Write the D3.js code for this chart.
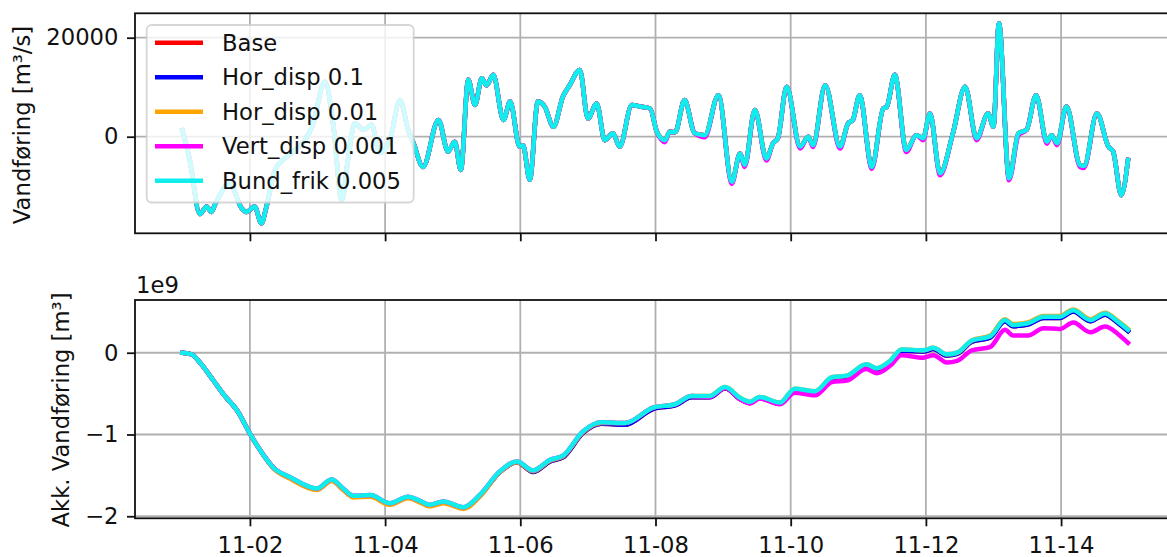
<!DOCTYPE html>
<html>
<head>
<meta charset="utf-8">
<script src="https://d3js.org/d3.v7.min.js"></script>
<style>
  body { margin: 0; background: #fff; }
  svg { display: block; font-family: "DejaVu Sans", sans-serif; }
</style>
</head>
<body>
<div id="chart"></div>
<script>
// series names + colours (matplotlib named colours)
const seriesNames = ["Base", "Hor_disp 0.1", "Hor_disp 0.01", "Vert_disp 0.001", "Bund_frik 0.005"];
const seriesColors = ["#ff0000", "#0000ff", "#ffa500", "#ff00ff", "#10eded"];

// x ticks: day of month in november
const tickDays = [2, 4, 6, 8, 10, 12, 14];

// top panel: flow [m3/s], time in days after 11-01 00:00
const flowT = [0, 0.11, 0.26, 0.36, 0.43, 0.48, 0.70, 0.88, 0.95, 1.07,
  1.17, 1.24, 1.37, 1.49, 1.67, 1.81, 1.92, 2.11, 2.23, 2.36,
  2.45, 2.55, 2.68, 2.80, 2.92, 3.07, 3.22, 3.34, 3.42, 3.56,
  3.79, 3.93, 4.03, 4.12, 4.23, 4.33, 4.43, 4.50, 4.60, 4.75,
  4.85, 4.99, 5.04, 5.14, 5.26, 5.36, 5.49, 5.63, 5.73, 5.88,
  6.00, 6.13, 6.25, 6.37, 6.47, 6.65, 6.77, 6.92, 7.02, 7.14,
  7.21, 7.29, 7.43, 7.58, 7.73, 7.93, 8.13, 8.25, 8.32, 8.47,
  8.64, 8.74, 8.81, 8.94, 9.14, 9.26, 9.33, 9.51, 9.73, 9.85,
  9.92, 10.02, 10.20, 10.37, 10.42, 10.54, 10.71, 10.86, 10.96, 11.06,
  11.21, 11.40, 11.58, 11.75, 11.92, 12.00, 12.08, 12.23, 12.37, 12.49,
  12.63, 12.79, 12.86, 12.94, 13.08, 13.28, 13.34, 13.53, 13.70, 13.77,
  13.89, 13.99];

const flowBase = [1300, -4700, -15600, -14100, -15200, -13800, -9500, -14500, -15200, -14100,
  -17500, -14400, -6700, -4700, -2700, -700, 2000, 11100, 2700, -12800,
  -4700, 2700, 1400, 2400, -3300, -700, 7400, 1400, -1300, -6100,
  3400, -3000, -1000, -6700, 11500, 6400, 11800, 10400, 12500, 3400,
  7100, -2000, -1700, -8700, 7100, 6100, 2000, 8100, 10400, 13500,
  3700, 6700, -700, 700, -2000, 6400, 6100, 5700, 1000, -700,
  1000, 900, 7400, 700, 300, 8400, -9100, -3400, -5700, 5400,
  -4400, -1300, -300, 10100, -2000, 0, -1700, 10400, -2000, 2700,
  3400, 8400, -6100, 5700, 6000, 12500, -2700, 300, -300, 4700,
  -7400, 700, 10100, -300, 4700, 2000, 22900, -8400, 700, 1400,
  8400, -1000, 300, -1300, 6100, -5700, -5900, 4700, -2000, -3000,
  -11800, -4700];

// vert_disp sits a touch lower in the troughs, the rest overlap
const flowVert = [1300, -4700, -15600, -14100, -15200, -13800, -9500, -14500, -15200, -14100,
  -17500, -14400, -6700, -4700, -2700, -700, 2000, 11100, 2700, -12800,
  -4700, 2700, 1400, 2400, -3300, -700, 7400, 1400, -1300, -6100,
  3400, -3000, -1000, -6700, 11500, 6400, 11800, 10400, 12500, 3400,
  7100, -2000, -1700, -8700, 7100, 6100, 2000, 8100, 10400, 13500,
  3700, 6700, -700, 700, -2000, 6400, 6100, 5700, 1000, -1100,
  1000, 900, 7400, 700, -100, 8400, -9500, -3400, -6100, 5400,
  -4800, -1300, -300, 10100, -2400, 0, -2100, 10400, -2400, 2700,
  3400, 8400, -6500, 5700, 6000, 12500, -3100, 300, -700, 4700,
  -7800, 700, 10100, -700, 4700, 2000, 22900, -8800, 300, 1400,
  8400, -1400, 300, -1700, 6100, -6100, -6300, 4700, -2000, -3000,
  -11800, -4700];

// bottom panel: accumulated flow [1e9 m3]
const cumT = [0, 0.14, 0.26, 0.46, 0.61, 0.83, 1.0, 1.2, 1.34, 1.59,
  1.99, 2.21, 2.38, 2.53, 2.78, 3.07, 3.34, 3.51, 3.66, 3.86,
  4.16, 4.4, 4.7, 4.95, 5.19, 5.44, 5.63, 5.93, 6.2, 6.55,
  6.97, 7.29, 7.53, 7.8, 8.03, 8.25, 8.4, 8.54, 8.84, 9.06,
  9.36, 9.61, 9.83, 10.12, 10.27, 10.47, 10.64, 10.96, 11.11, 11.31,
  11.46, 11.68, 11.95, 12.17, 12.29, 12.51, 12.74, 12.98, 13.18, 13.43,
  13.65, 13.84, 13.99];

const cumBase = [0, -0.02, -0.12, -0.34, -0.51, -0.73, -0.99, -1.25, -1.40, -1.53,
  -1.67, -1.56, -1.67, -1.76, -1.75, -1.85, -1.77, -1.82, -1.87, -1.83,
  -1.90, -1.75, -1.46, -1.34, -1.46, -1.33, -1.28, -0.98, -0.87, -0.88,
  -0.685, -0.645, -0.545, -0.545, -0.435, -0.565, -0.615, -0.555, -0.625, -0.455,
  -0.485, -0.315, -0.295, -0.155, -0.205, -0.115, 0.025, 0.015, 0.045, -0.035,
  -0.015, 0.135, 0.185, 0.385, 0.325, 0.345, 0.425, 0.425, 0.505, 0.385,
  0.465, 0.365, 0.265];

const cumHor001 = [0, -0.02, -0.12, -0.34, -0.51, -0.73, -0.99, -1.25, -1.41, -1.54,
  -1.68, -1.57, -1.68, -1.77, -1.76, -1.86, -1.78, -1.83, -1.88, -1.84,
  -1.91, -1.76, -1.46, -1.34, -1.45, -1.32, -1.27, -0.97, -0.86, -0.86,
  -0.67, -0.63, -0.53, -0.53, -0.42, -0.55, -0.60, -0.54, -0.61, -0.44,
  -0.47, -0.30, -0.28, -0.14, -0.19, -0.10, 0.04, 0.03, 0.06, -0.02,
  0.0, 0.15, 0.21, 0.41, 0.35, 0.37, 0.45, 0.45, 0.53, 0.41,
  0.49, 0.39, 0.29];

const cumVert = [0, -0.02, -0.12, -0.34, -0.51, -0.73, -0.99, -1.25, -1.40, -1.52,
  -1.66, -1.55, -1.66, -1.75, -1.74, -1.84, -1.76, -1.81, -1.86, -1.82,
  -1.89, -1.74, -1.45, -1.33, -1.44, -1.31, -1.26, -0.96, -0.85, -0.86,
  -0.67, -0.63, -0.53, -0.54, -0.43, -0.57, -0.62, -0.56, -0.63, -0.49,
  -0.52, -0.36, -0.34, -0.20, -0.25, -0.16, -0.03, -0.06, -0.03, -0.12,
  -0.10, 0.03, 0.07, 0.28, 0.21, 0.21, 0.30, 0.29, 0.37, 0.25,
  0.32, 0.23, 0.12];

const cumBund = [0, -0.02, -0.12, -0.34, -0.51, -0.73, -0.99, -1.25, -1.40, -1.52,
  -1.66, -1.55, -1.66, -1.75, -1.74, -1.84, -1.76, -1.81, -1.86, -1.82,
  -1.89, -1.74, -1.45, -1.33, -1.44, -1.31, -1.26, -0.96, -0.85, -0.86,
  -0.67, -0.63, -0.53, -0.53, -0.42, -0.55, -0.60, -0.54, -0.61, -0.44,
  -0.47, -0.30, -0.28, -0.14, -0.19, -0.10, 0.04, 0.03, 0.06, -0.02,
  0.0, 0.15, 0.20, 0.40, 0.34, 0.36, 0.44, 0.44, 0.52, 0.40,
  0.48, 0.38, 0.28];

// red/blue overlap everywhere, so Hor_disp 0.1 reuses the base numbers
const flowSeries = [flowBase, flowBase, flowBase, flowVert, flowBase];
const cumSeries = [cumBase, cumBase, cumHor001, cumVert, cumBund];

// ---- layout ----
const W = 1167, H = 557;
const fs = 22.7;          // tick / label font size
const lw = 1.8;           // spine + grid + tick width
const left = 135, right = 1176; // right spine falls off the picture
const top1 = 13.3, bot1 = 233.3, top2 = 300, bot2 = 518.3;

const svg = d3.select("#chart").append("svg").attr("width", W).attr("height", H);

const t0 = Date.UTC(2023, 10, 1);
const toDate = d => new Date(t0 + d * 864e5);

const x = d3.scaleUtc().domain([toDate(-0.7), toDate(14.7)]).range([left, right]);
const y1 = d3.scaleLinear().domain([-19510, 24930]).range([bot1, top1]);
const y2 = d3.scaleLinear().domain([-2.025, 0.645]).range([bot2, top2]);

// day-of-month -> date (11-01 is offset 0)
const tickDates = tickDays.map(d => toDate(d - 1));

function panel(y, yTicks, top, bot, times, series, showX, yFmt) {
  const g = svg.append("g");

  // grid first (below lines)
  g.selectAll(".vg").data(tickDates).join("line")
    .attr("x1", d => x(d)).attr("x2", d => x(d))
    .attr("y1", top).attr("y2", bot)
    .attr("stroke", "#b0b0b0").attr("stroke-width", lw);
  g.selectAll(".hg").data(yTicks).join("line")
    .attr("x1", left).attr("x2", right)
    .attr("y1", d => y(d)).attr("y2", d => y(d))
    .attr("stroke", "#b0b0b0").attr("stroke-width", lw);

  const line = d3.line()
    .x((d, i) => x(toDate(times[i])))
    .y(d => y(d))
    .curve(d3.curveMonotoneX);

  series.forEach((vals, i) => {
    g.append("path").attr("d", line(vals))
      .attr("fill", "none")
      .attr("stroke", seriesColors[i])
      .attr("stroke-width", 4.5)
      .attr("stroke-linejoin", "round")
      .attr("stroke-linecap", "square");
  });

  // spines
  g.append("rect").attr("x", left).attr("y", top)
    .attr("width", right - left).attr("height", bot - top)
    .attr("fill", "none").attr("stroke", "#111").attr("stroke-width", lw);

  const ax = g.append("g").attr("transform", `translate(0,${bot})`)
    .call(d3.axisBottom(x).tickValues(tickDates).tickSize(8).tickSizeOuter(0)
      .tickPadding(11).tickFormat(showX ? d3.utcFormat("%m-%d") : () => ""));
  const ay = g.append("g").attr("transform", `translate(${left},0)`)
    .call(d3.axisLeft(y).tickValues(yTicks).tickSize(8).tickSizeOuter(0)
      .tickPadding(8.5).tickFormat(yFmt));

  [ax, ay].forEach(a => {
    a.select(".domain").remove();
    a.selectAll("line").attr("stroke", "#111").attr("stroke-width", lw);
    a.selectAll("text").attr("fill", "#111")
      .style("font-family", '"DejaVu Sans", sans-serif').style("font-size", fs + "px");
  });
  return g;
}

panel(y1, [0, 20000], top1, bot1, flowT, flowSeries, false, d3.format("d"));
panel(y2, [-2, -1, 0], top2, bot2, cumT, cumSeries, true, d3.format("d"));

// axis labels
svg.append("text").attr("transform", "translate(30,125) rotate(-90)")
  .attr("text-anchor", "middle").attr("font-size", fs).attr("fill", "#111")
  .text("Vandføring [m³/s]");
svg.append("text").attr("transform", "translate(69,410) rotate(-90)")
  .attr("text-anchor", "middle").attr("font-size", fs).attr("fill", "#111")
  .text("Akk. Vandføring [m³]");

// offset text for the bottom y axis
svg.append("text").attr("x", left + 1).attr("y", 293)
  .attr("font-size", fs).attr("fill", "#111").text("1e9");

// legend, semi-transparent like matplotlib's default
const lg = svg.append("g");
lg.append("rect").attr("x", 146.7).attr("y", 25).attr("width", 267).attr("height", 177.5)
  .attr("rx", 5).attr("fill", "#fff").attr("fill-opacity", 0.8)
  .attr("stroke", "#cccccc").attr("stroke-opacity", 0.8).attr("stroke-width", lw);
seriesNames.forEach((name, i) => {
  const yy = 42.7 + i * 34.5;
  lg.append("line").attr("x1", 155).attr("x2", 203).attr("y1", yy).attr("y2", yy)
    .attr("stroke", seriesColors[i]).attr("stroke-width", 4.5);
  lg.append("text").attr("x", 222).attr("y", yy).attr("dy", "0.36em")
    .attr("font-size", fs).attr("fill", "#111").text(name);
});
</script>
</body>
</html>
